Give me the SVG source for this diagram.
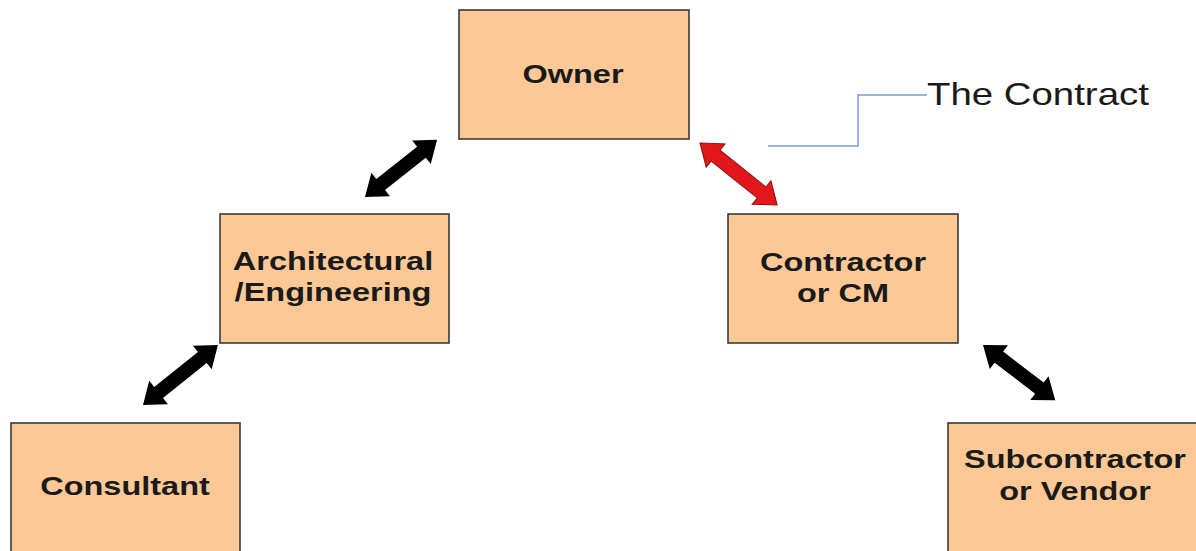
<svg xmlns="http://www.w3.org/2000/svg" width="1196" height="551" viewBox="0 0 1196 551">
<defs>
<style>
.box{fill:#fcc996;stroke:#3a3a3a;stroke-width:1.6}
.lbl{font-family:"Liberation Sans",Arial,sans-serif;font-weight:bold;font-size:25px;fill:#1a1a1a;text-anchor:middle}
.arr{fill:#000}
.red{fill:#e3161b;stroke:#8a1010;stroke-width:1}
</style>
</defs>
<rect width="1196" height="551" fill="#fff"/>
<g id="owner">
<rect class="box" x="459" y="10" width="230" height="129"/>
<text class="lbl" transform="translate(573,83) scale(1.3,1)">Owner</text>
</g>
<g id="ae">
<rect class="box" x="220" y="214" width="229" height="129"/>
<text class="lbl" transform="translate(333,270) scale(1.3,1)">Architectural</text>
<text class="lbl" transform="translate(333,301) scale(1.3,1)">/Engineering</text>
</g>
<g id="contractor">
<rect class="box" x="728" y="214" width="230" height="129"/>
<text class="lbl" transform="translate(843,271) scale(1.3,1)">Contractor</text>
<text class="lbl" transform="translate(843,302) scale(1.3,1)">or CM</text>
</g>
<g id="consultant">
<rect class="box" x="11" y="423" width="229" height="140"/>
<text class="lbl" transform="translate(125,495) scale(1.3,1)">Consultant</text>
</g>
<g id="subcontractor">
<rect class="box" x="948" y="423" width="260" height="140"/>
<text class="lbl" transform="translate(1075,468) scale(1.3,1)">Subcontractor</text>
<text class="lbl" transform="translate(1075,500) scale(1.3,1)">or Vendor</text>
</g>
<g id="callout">
<polyline points="768,146 858,146 858,95 927,95" fill="none" stroke="#7f9ccf" stroke-width="1.5"/>
<text x="0" y="0" transform="translate(927,105) scale(1.2,1)" font-family="'Liberation Sans',Arial,sans-serif" font-size="32" fill="#1a1a1a">The Contract</text>
</g>
<g id="connectors">
<polygon class="arr" transform="translate(365,197) rotate(-38.4)" points="0,0 20,-15 20,-7 72,-7 72,-15 92,0 72,15 72,7 20,7 20,15"/>
<polygon class="arr" transform="translate(143,405) rotate(-38.7)" points="0,0 20,-15 20,-7 76,-7 76,-15 96,0 76,15 76,7 20,7 20,15"/>
<polygon class="red" transform="translate(700,143) rotate(38.8)" points="0,0 20,-15 20,-7 79,-7 79,-15 99,0 79,15 79,7 20,7 20,15"/>
<polygon class="arr" transform="translate(983,345) rotate(37.4)" points="0,0 20,-15 20,-7 71,-7 71,-15 91,0 71,15 71,7 20,7 20,15"/>
</g>
</svg>
